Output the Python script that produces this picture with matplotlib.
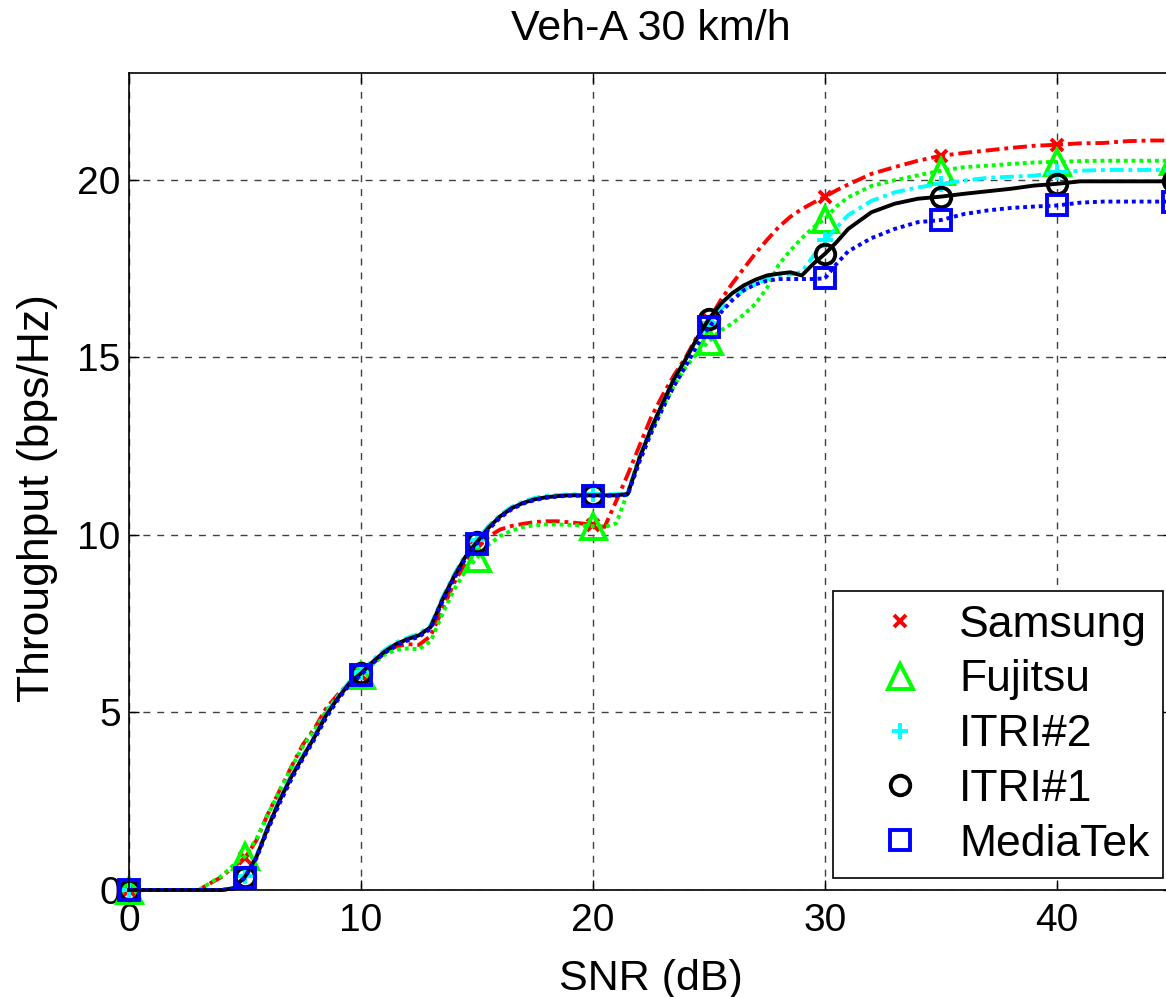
import numpy as np
import matplotlib
matplotlib.use("Agg")
import matplotlib.pyplot as plt
from matplotlib.lines import Line2D

plt.rcParams['font.family'] = ['Liberation Sans', 'DejaVu Sans']
plt.rcParams['lines.scale_dashes'] = False

# SNR grid: 0.5 dB steps up to 31 dB, then 1 dB steps
snr = np.concatenate([np.arange(0, 31.5, 0.5), np.arange(32, 46, 1.0)])

samsung = [0, 0, 0, 0, 0, 0, 0, 0.19, 0.37, 0.66, 0.9, 1.41, 2.16, 2.81, 3.47, 4.1,
           4.55, 5.12, 5.5, 5.84, 6.05, 6.38, 6.68, 6.85, 6.92, 6.9, 7.15, 7.88, 8.63, 9.2,
           9.62, 9.95, 10.15, 10.25, 10.31, 10.36, 10.38, 10.38, 10.35, 10.32, 10.28, 10.22,
           10.95, 11.7, 12.5, 13.3, 13.93, 14.5, 15.0, 15.6, 16.05, 16.6, 17.07, 17.5,
           17.92, 18.3, 18.66, 18.95, 19.17, 19.35, 19.52, 19.7, 19.86,
           20.16, 20.35, 20.53, 20.67, 20.75, 20.82, 20.89, 20.95, 20.98, 21.02, 21.03,
           21.08, 21.1, 21.1]
fujitsu = [0, 0, 0, 0, 0, 0, 0, 0.2, 0.4, 0.7, 0.95, 1.45, 2.15, 2.8, 3.45, 4.05,
           4.5, 5.05, 5.45, 5.8, 6.05, 6.35, 6.62, 6.76, 6.8, 6.78, 7.0, 7.75, 8.44, 8.98,
           9.35, 9.72, 9.97, 10.12, 10.22, 10.27, 10.29, 10.29, 10.28, 10.26, 10.24, 10.22,
           10.32, 11.2, 12.19, 12.9, 13.6, 14.2, 14.72, 15.12, 15.45, 15.75, 15.95, 16.2,
           16.5, 16.95, 17.6, 18.0, 18.35, 18.65, 18.9, 19.25, 19.5,
           19.82, 19.98, 20.12, 20.25, 20.35, 20.39, 20.44, 20.48, 20.5, 20.52, 20.53,
           20.53, 20.53, 20.53]
itri2 = [0, 0, 0, 0, 0, 0, 0, 0, 0, 0.06, 0.4, 0.98, 1.83, 2.58, 3.24, 3.8,
         4.36, 4.97, 5.45, 5.87, 6.15, 6.47, 6.75, 6.97, 7.1, 7.22, 7.45, 8.22, 8.87, 9.44,
         9.86, 10.25, 10.56, 10.79, 10.94, 11.04, 11.1, 11.12, 11.14, 11.14, 11.14, 11.14,
         11.14, 11.17, 12.2, 13.0, 13.72, 14.4, 14.95, 15.5, 15.95, 16.35, 16.65, 16.9,
         17.05, 17.2, 17.28, 17.33, 17.4, 17.85, 18.3, 18.65, 19.0,
         19.4, 19.64, 19.78, 19.88, 19.97, 20.05, 20.08, 20.11, 20.2, 20.25, 20.27,
         20.27, 20.27, 20.27]
itri1 = [0, 0, 0, 0, 0, 0, 0, 0, 0, 0.05, 0.37, 0.94, 1.78, 2.53, 3.19, 3.75,
         4.31, 4.92, 5.4, 5.82, 6.1, 6.42, 6.7, 6.92, 7.06, 7.17, 7.4, 8.16, 8.81, 9.38,
         9.8, 10.2, 10.52, 10.75, 10.9, 11.0, 11.06, 11.09, 11.11, 11.11, 11.11, 11.11,
         11.11, 11.15, 12.15, 12.98, 13.7, 14.4, 14.95, 15.55, 16.08, 16.5, 16.8, 17.02,
         17.18, 17.3, 17.35, 17.39, 17.3, 17.63, 17.91, 18.24, 18.61,
         19.08, 19.32, 19.46, 19.52, 19.6, 19.67, 19.74, 19.83, 19.88, 19.95, 19.95,
         19.95, 19.95, 19.95]
mediatek = [0, 0, 0, 0, 0, 0, 0, 0, 0, 0.03, 0.35, 0.9, 1.72, 2.45, 3.12, 3.7,
            4.25, 4.85, 5.35, 5.78, 6.05, 6.38, 6.66, 6.88, 7.02, 7.13, 7.35, 8.1, 8.75, 9.32,
            9.75, 10.15, 10.48, 10.72, 10.88, 10.98, 11.04, 11.08, 11.1, 11.1, 11.1, 11.1,
            11.1, 11.12, 12.05, 12.85, 13.55, 14.2, 14.75, 15.35, 15.85, 16.25, 16.6, 16.88,
            17.05, 17.15, 17.2, 17.2, 17.2, 17.2, 17.22, 17.63, 17.98,
            18.35, 18.61, 18.8, 18.86, 19.03, 19.13, 19.2, 19.24, 19.27, 19.35, 19.38,
            19.38, 19.38, 19.38]

names = ['Samsung', 'Fujitsu', 'ITRI#2', 'ITRI#1', 'MediaTek']
series = [samsung, fujitsu, itri2, itri1, mediatek]
colors = ['#ff0000', '#00ff00', '#00ffff', '#000000', '#0000ff']
dashdot = (0, (10, 3.5, 2.8, 3.5))
dotted = (0, (2.8, 2.8))
styles = [dashdot, dotted, dashdot, '-', dotted]
markers = ['x', '^', '+', 'o', 's']
msizes = [8, 18, 12, 14, 14]

mark_idx = [int(i) for i in np.where(snr % 5 == 0)[0]]

fig = plt.figure(figsize=(11.66, 9.97), dpi=100)
ax = fig.add_axes([129 / 1166, 107 / 997, 1044 / 1166, 817 / 997])

for y, name, c, ls, m, ms in zip(series, names, colors, styles, markers, msizes):
    ax.plot(snr, y, color=c, linestyle=ls, linewidth=2.8, dash_capstyle='butt',
            marker=m, markersize=ms, markevery=mark_idx, markerfacecolor='none',
            markeredgecolor=c, markeredgewidth=2.8, clip_on=False)

ax.set_xlim(0, 45)
ax.set_ylim(0, 23)
ax.set_xticks([0, 10, 20, 30, 40])
ax.set_yticks([0, 5, 10, 15, 20])
ax.grid(True, color='0.25', linestyle=(0, (5, 5)), linewidth=1.0)
ax.tick_params(direction='in', top=True, right=True, length=7, width=1,
               labelsize=28)
ax.tick_params(axis='x', pad=9)
ax.tick_params(axis='y', pad=6)
for s in ax.spines.values():
    s.set_linewidth(1.2)

ax.set_title('Veh-A 30 km/h', fontsize=31, pad=24)
ax.set_xlabel('SNR (dB)', fontsize=31, labelpad=15)
ax.set_ylabel('Throughput (bps/Hz)', fontsize=32)
ax.yaxis.set_label_coords(-0.068, 0.48)

handles = [Line2D([], [], linestyle='none', marker=m, markersize=ms,
                  markerfacecolor='none', markeredgecolor=c, markeredgewidth=2.8)
           for m, ms, c in zip(markers, msizes, colors)]
leg = ax.legend(handles, names, loc='lower right', fontsize=32,
                bbox_to_anchor=(1163 / 1166, 119 / 997),
                bbox_transform=fig.transFigure, borderaxespad=0,
                fancybox=False, framealpha=1, edgecolor='black',
                borderpad=0.3, labelspacing=0.31, handlelength=2.42,
                handletextpad=0.12)
leg.get_frame().set_linewidth(1.2)

fig.savefig('out.png', dpi=100)
